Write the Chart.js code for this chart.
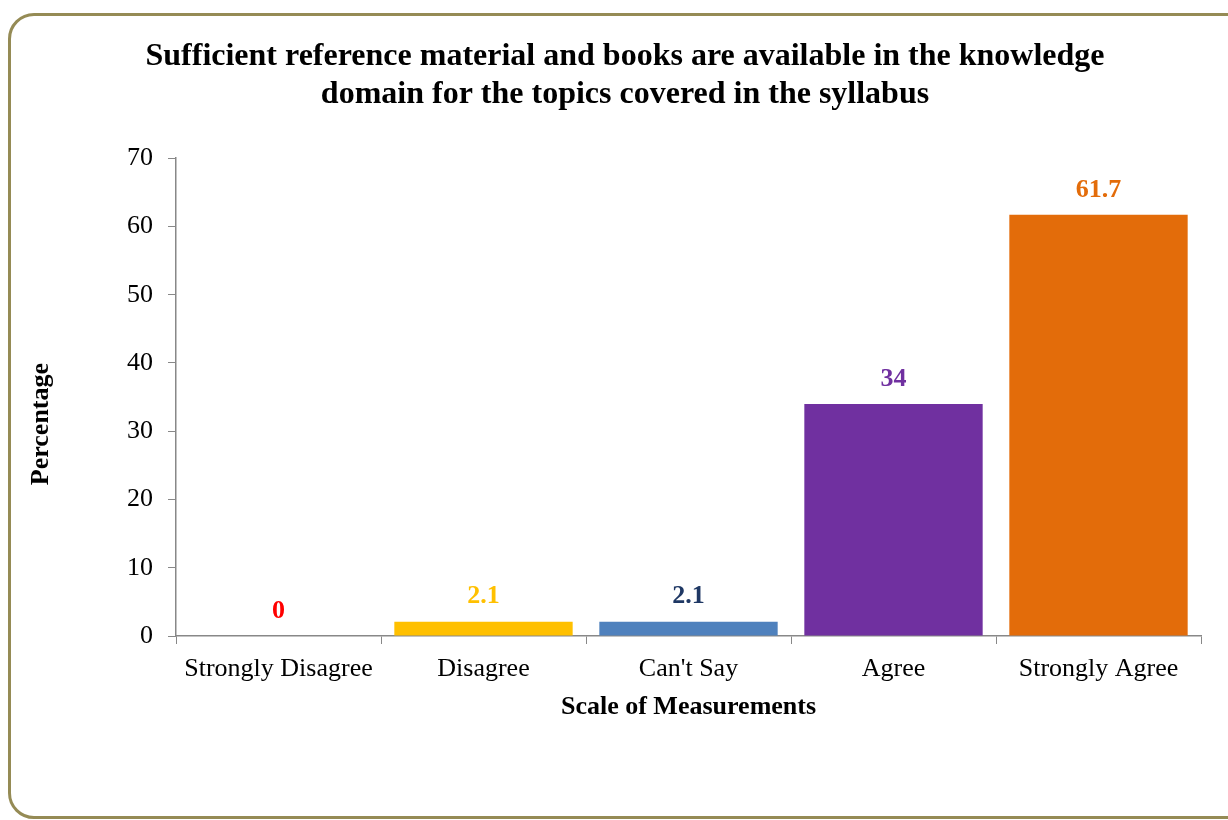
<!DOCTYPE html>
<html>
<head>
<meta charset="utf-8">
<script src="https://cdn.jsdelivr.net/npm/chart.js@4"></script>
<style>
  body { margin: 0; background: #fff; }
  #frame {
    position: absolute; left: 8px; top: 13px; width: 1300px; height: 806px;
    box-sizing: border-box; border: 3px solid #958b55; border-radius: 26px;
  }
  #wrap { position: absolute; left: 0; top: 0; width: 1228px; height: 820px; }
</style>
</head>
<body>
<div id="frame"></div>
<div id="wrap"><canvas id="myChart"></canvas></div>
<script>
const categories = ['Strongly Disagree', 'Disagree', "Can't Say", 'Agree', 'Strongly Agree'];
const percentages = [0, 2.1, 2.1, 34, 61.7];
const barColors = ['#ff0000', '#ffc000', '#4f81bd', '#7030a0', '#e36c0a'];
const labelColors = ['#ff0000', '#ffc000', '#1f3864', '#7030a0', '#e36c0a'];
const yTicks = [0, 10, 20, 30, 40, 50, 60, 70];

const serif = "'Liberation Serif', 'Times New Roman', serif";

// values above the bars + the y axis title (it sits a bit below the middle)
const valueLabels = {
  id: 'valueLabels',
  afterDatasetsDraw(chart) {
    const c = chart.ctx;
    const meta = chart.getDatasetMeta(0);
    const area = chart.chartArea;
    c.save();
    c.font = 'bold 26px ' + serif;
    c.textAlign = 'center';
    c.textBaseline = 'middle';
    meta.data.forEach((bar, i) => {
      c.fillStyle = labelColors[i];
      c.fillText(String(percentages[i]), bar.x, bar.y - 25);
    });
    c.fillStyle = '#000';
    c.translate(41, (area.top + area.bottom) / 2 + 27);
    c.rotate(-Math.PI / 2);
    c.fillText('Percentage', 0, 0);
    c.restore();
  }
};

const ctx = document.getElementById('myChart');
new Chart(ctx, {
  type: 'bar',
  data: {
    labels: categories,
    datasets: [{
      data: percentages,
      backgroundColor: barColors,
      categoryPercentage: 1,
      barPercentage: 0.87
    }]
  },
  plugins: [valueLabels],
  options: {
    responsive: true,
    maintainAspectRatio: false,
    animation: false,
    layout: { padding: { left: 49, right: 27, top: 20, bottom: 0 } },
    plugins: {
      legend: { display: false },
      tooltip: { enabled: false },
      title: {
        display: true,
        text: ['Sufficient reference material and books are available in the knowledge',
               'domain for the topics covered in the syllabus'],
        color: '#000',
        font: { family: serif, size: 32, weight: 'bold', lineHeight: 1.19 },
        padding: { top: 18, bottom: 44 }
      }
    },
    scales: {
      y: {
        min: 0,
        max: 70,
        afterBuildTicks: s => { s.ticks = yTicks.map(v => ({ value: v })); },
        afterFit: s => { s.width = 127; },
        border: { color: '#888', width: 1.5 },
        grid: { drawOnChartArea: false, drawTicks: true, tickLength: 8, color: '#888' },
        ticks: { color: '#000', padding: 15, font: { family: serif, size: 26 } },
        title: { display: false }
      },
      x: {
        afterFit: s => { s.height = 184; },
        border: { color: '#888', width: 1.5 },
        grid: { drawOnChartArea: false, drawTicks: true, tickLength: 8, color: '#888', offset: true },
        ticks: { color: '#000', padding: 10, maxRotation: 0, font: { family: serif, size: 26 } },
        title: {
          display: true,
          text: 'Scale of Measurements',
          color: '#000',
          font: { family: serif, size: 26, weight: 'bold' },
          padding: { top: 0, bottom: 97 }
        }
      }
    }
  }
});
</script>
</body>
</html>
